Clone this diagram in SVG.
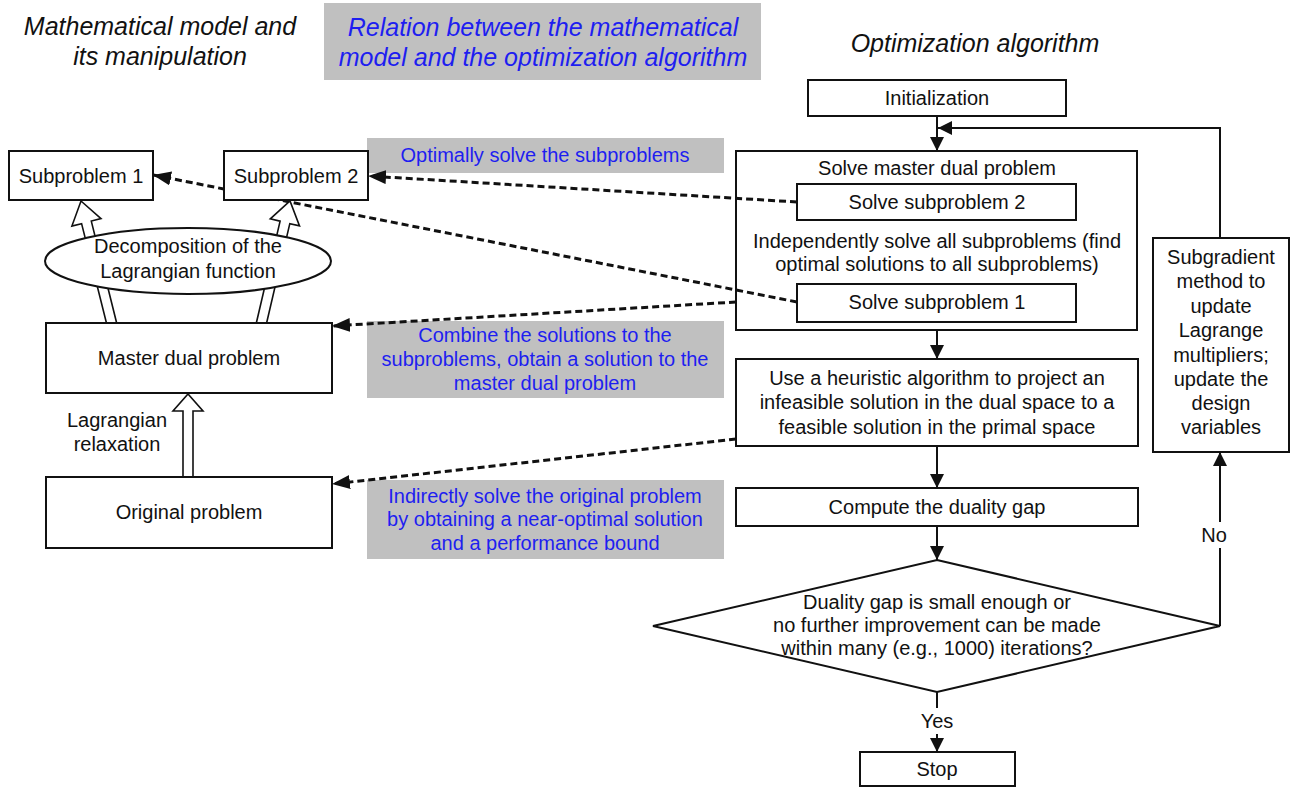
<svg xmlns="http://www.w3.org/2000/svg" width="1294" height="787" viewBox="0 0 1294 787">
<style>
text{font-family:"Liberation Sans",Arial,sans-serif;font-size:20px;fill:#111;text-anchor:middle}
.title{font-size:25px;font-style:italic}
.blue{fill:#1e1ef0}
.box{fill:#fff;stroke:#111;stroke-width:2}
.gray{fill:#c0c0c0;stroke:none}
.solid{fill:none;stroke:#111;stroke-width:2}
.dash{fill:none;stroke:#111;stroke-width:3;stroke-dasharray:7 4}
.hollow{fill:#fff;stroke:#111;stroke-width:1.6}
</style>
<defs>
<marker id="ah" markerUnits="userSpaceOnUse" markerWidth="16" markerHeight="14" refX="14" refY="7" orient="auto">
<path d="M0,0 L14,7 L0,14 z" fill="#111"/>
</marker>
<marker id="ahd" markerUnits="userSpaceOnUse" markerWidth="20" markerHeight="16" refX="18" refY="7" orient="auto">
<path d="M0,0 L18,7 L0,14 z" fill="#111"/>
</marker>
</defs>
<rect width="1294" height="787" fill="#fff"/>

<g id="titles">
<text class="title" x="160" y="35">Mathematical model and</text>
<text class="title" x="160" y="65">its manipulation</text>
<rect class="gray" x="324" y="3" width="437" height="77"/>
<text class="title blue" x="543" y="36">Relation between the mathematical</text>
<text class="title blue" x="543" y="66">model and the optimization algorithm</text>
<text class="title" x="975" y="52">Optimization algorithm</text>
</g>

<g id="label-optimally">
<rect class="gray" x="367" y="138" width="357" height="35"/>
<text class="blue" x="545" y="162">Optimally solve the subproblems</text>
</g>
<g id="label-combine">
<rect class="gray" x="367" y="321" width="357" height="77"/>
<text class="blue" x="545" y="342">Combine the solutions to the</text>
<text class="blue" x="545" y="366">subproblems, obtain a solution to the</text>
<text class="blue" x="545" y="390">master dual problem</text>
</g>
<g id="label-indirect">
<rect class="gray" x="367" y="480" width="357" height="79"/>
<text class="blue" x="545" y="503">Indirectly solve the original problem</text>
<text class="blue" x="545" y="526">by obtaining a near-optimal solution</text>
<text class="blue" x="545" y="550">and a performance bound</text>
</g>

<g id="initialization">
<rect class="box" x="808" y="80" width="258" height="36"/>
<text x="937" y="105">Initialization</text>
</g>
<g id="solve-master">
<rect class="box" x="736" y="151" width="401" height="179"/>
<text x="937" y="175">Solve master dual problem</text>
<text x="937" y="248">Independently solve all subproblems (find</text>
<text x="937" y="271">optimal solutions to all subproblems)</text>
</g>
<g id="solve-sub2">
<rect class="box" x="797" y="184" width="279" height="36"/>
<text x="937" y="209">Solve subproblem 2</text>
</g>
<g id="solve-sub1">
<rect class="box" x="797" y="284" width="279" height="38"/>
<text x="937" y="309">Solve subproblem 1</text>
</g>
<g id="heuristic">
<rect class="box" x="736" y="359" width="402" height="87"/>
<text x="937" y="385">Use a heuristic algorithm to project an</text>
<text x="937" y="409">infeasible solution in the dual space to a</text>
<text x="937" y="434">feasible solution in the primal space</text>
</g>
<g id="compute-gap">
<rect class="box" x="736" y="488" width="402" height="38"/>
<text x="937" y="514">Compute the duality gap</text>
</g>
<g id="decision">
<polygon class="box" points="937,560 1220,626 937,692 653,626"/>
<text x="937" y="609">Duality gap is small enough or</text>
<text x="937" y="632">no further improvement can be made</text>
<text x="937" y="655">within many (e.g., 1000) iterations?</text>
</g>
<g id="subgradient">
<rect class="box" x="1153" y="238" width="136" height="214"/>
<text x="1221" y="264">Subgradient</text>
<text x="1221" y="288">method to</text>
<text x="1221" y="313">update</text>
<text x="1221" y="337">Lagrange</text>
<text x="1221" y="362">multipliers;</text>
<text x="1221" y="386">update the</text>
<text x="1221" y="410">design</text>
<text x="1221" y="434">variables</text>
</g>
<g id="stop">
<rect class="box" x="860" y="752" width="155" height="34"/>
<text x="937" y="776">Stop</text>
</g>

<g id="connectors">
<line class="solid" x1="937" y1="116" x2="937" y2="151" marker-end="url(#ah)"/>
<polyline class="solid" points="1220,238 1220,128 938,128" marker-end="url(#ah)"/>
<line class="solid" x1="937" y1="330" x2="937" y2="359" marker-end="url(#ah)"/>
<line class="solid" x1="937" y1="446" x2="937" y2="488" marker-end="url(#ah)"/>
<line class="solid" x1="937" y1="526" x2="937" y2="560" marker-end="url(#ah)"/>
<line class="solid" x1="1220" y1="626" x2="1220" y2="452" marker-end="url(#ah)"/>
<line class="solid" x1="937" y1="692" x2="937" y2="752" marker-end="url(#ah)"/>
<rect x="1200" y="522" width="30" height="26" fill="#fff"/>
<text x="1214" y="542">No</text>
<rect x="918" y="708" width="38" height="26" fill="#fff"/>
<text x="937" y="728">Yes</text>
<line class="dash" x1="797" y1="302" x2="153" y2="175" marker-end="url(#ahd)"/>
<line class="dash" x1="797" y1="202" x2="368" y2="176" marker-end="url(#ahd)"/>
<line class="dash" x1="736" y1="302" x2="332" y2="326" marker-end="url(#ahd)"/>
<line class="dash" x1="736" y1="439" x2="332" y2="484" marker-end="url(#ahd)"/>
<polygon class="hollow" points="107.2,326 116.9,324 91.3,221.1 101,218.6 81,201 71.9,226 81.6,223.6"/>
<polygon class="hollow" points="256.1,324 265.9,326 289.8,223.6 299.5,225.9 290,201 270.3,218.9 280.1,221.2"/>
<polygon class="hollow" points="183,478 193,478 193,411 203,411 188,394 173,411 183,411"/>
</g>

<g id="subproblem1">
<rect class="box" x="9" y="151" width="144" height="49"/>
<text x="81" y="183">Subproblem 1</text>
</g>
<g id="subproblem2">
<rect class="box" x="224" y="151" width="144" height="49"/>
<text x="296" y="183">Subproblem 2</text>
</g>
<g id="decomposition">
<ellipse class="box" cx="188" cy="261" rx="143" ry="33"/>
<text x="188" y="253">Decomposition of the</text>
<text x="188" y="278">Lagrangian function</text>
</g>
<g id="master-dual">
<rect class="box" x="46" y="323" width="286" height="70"/>
<text x="189" y="365">Master dual problem</text>
</g>
<g id="lagrangian-label">
<text x="117" y="427">Lagrangian</text>
<text x="117" y="451">relaxation</text>
</g>
<g id="original">
<rect class="box" x="46" y="477" width="286" height="71"/>
<text x="189" y="519">Original problem</text>
</g>
</svg>
